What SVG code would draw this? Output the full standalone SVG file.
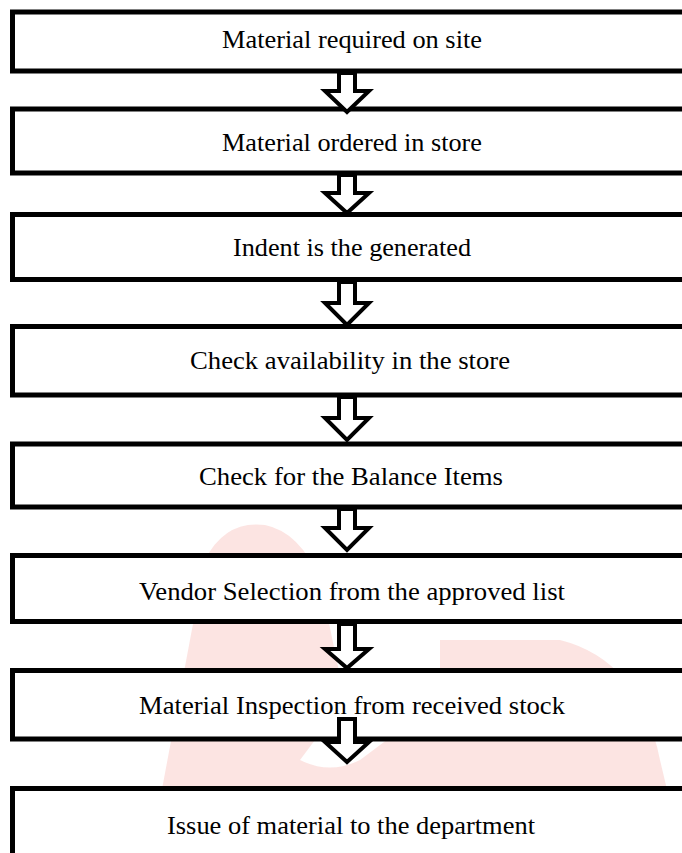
<svg xmlns="http://www.w3.org/2000/svg" width="682" height="853" viewBox="0 0 682 853">
<style>
.box{fill:#fff;stroke:#000;stroke-width:5}
.lbl{font-family:"Liberation Serif","Times New Roman",serif;font-size:25px;fill:#000;text-anchor:middle}
.arr{fill:#fff;stroke:#000;stroke-width:4;stroke-linejoin:miter}
.wm{fill:#f9c4be;opacity:0.45}
</style>
<rect x="0" y="0" width="682" height="853" fill="#fff"/>
<g id="watermark">
<path class="wm" d="M150,853 L205,560 Q225,520 265,525 Q300,532 320,580 L345,700 L300,760 Q330,775 360,760 L440,700 L440,853 Z"/>
<path class="wm" d="M440,700 L440,640 L560,640 Q640,660 660,760 L682,853 L440,853 Z"/>
</g>
<g id="n1"><rect class="box" x="12.5" y="12" width="700" height="59"/><text class="lbl" x="352" y="48" textLength="260" lengthAdjust="spacingAndGlyphs">Material required on site</text></g>
<g id="n2"><rect class="box" x="12.5" y="109" width="700" height="64"/><text class="lbl" x="352" y="151" textLength="260" lengthAdjust="spacingAndGlyphs">Material ordered in store</text></g>
<g id="n3"><rect class="box" x="12.5" y="214.5" width="700" height="65"/><text class="lbl" x="352" y="256" textLength="238" lengthAdjust="spacingAndGlyphs">Indent is the generated</text></g>
<g id="n4"><rect class="box" x="12.5" y="326.5" width="700" height="68.5"/><text class="lbl" x="350" y="369" textLength="320" lengthAdjust="spacingAndGlyphs">Check availability in the store</text></g>
<g id="n5"><rect class="box" x="12.5" y="444" width="700" height="63"/><text class="lbl" x="351" y="485" textLength="304" lengthAdjust="spacingAndGlyphs">Check for the Balance Items</text></g>
<g id="n6"><rect class="box" x="12.5" y="555.5" width="700" height="66"/><text class="lbl" x="352" y="600" textLength="426" lengthAdjust="spacingAndGlyphs">Vendor Selection from the approved list</text></g>
<g id="n7"><rect class="box" x="12.5" y="670.5" width="700" height="68.5"/><text class="lbl" x="352" y="714" textLength="426" lengthAdjust="spacingAndGlyphs">Material Inspection from received stock</text></g>
<g id="n8"><rect class="box" x="12.5" y="788.5" width="700" height="100"/><text class="lbl" x="351" y="834" textLength="368" lengthAdjust="spacingAndGlyphs">Issue of material to the department</text></g>
<g id="connectors">
<path class="arr" d="M339,73 L355,73 L355,91 L369,91 L347,112 L325,91 L339,91 Z"/>
<path class="arr" d="M339,175 L355,175 L355,193 L369,193 L347,213 L325,193 L339,193 Z"/>
<path class="arr" d="M339,282 L355,282 L355,303 L369,303 L347,325 L325,303 L339,303 Z"/>
<path class="arr" d="M339,397 L355,397 L355,418 L369,418 L347,440 L325,418 L339,418 Z"/>
<path class="arr" d="M339,509 L355,509 L355,528 L369,528 L347,550 L325,528 L339,528 Z"/>
<path class="arr" d="M339,624 L355,624 L355,649 L369,649 L347,668 L325,649 L339,649 Z"/>
<path class="arr" d="M339,719 L355,719 L355,742 L369,742 L347,762 L325,742 L339,742 Z"/>
</g>
</svg>
